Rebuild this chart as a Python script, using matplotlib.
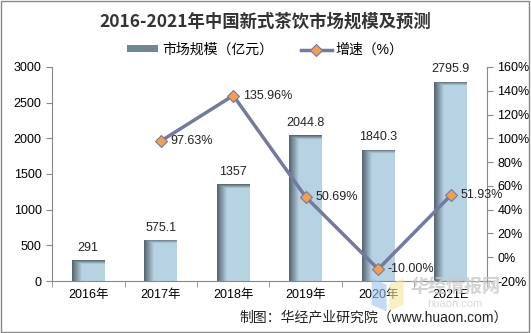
import numpy as np
import matplotlib.pyplot as plt
from matplotlib.patches import Rectangle, Patch, Polygon
from matplotlib.lines import Line2D
from matplotlib.colors import LinearSegmentedColormap

plt.rcParams['font.family'] = ['Liberation Sans', 'Noto Sans CJK SC']

years = ['2016年', '2017年', '2018年', '2019年', '2020年', '2021E']
scale = [291, 575.1, 1357, 2044.8, 1840.3, 2795.9]
growth_years = [1, 2, 3, 4, 5]
growth = [97.63, 135.96, 50.69, -10.00, 51.93]
growth_labels = ['97.63%', '135.96%', '50.69%', '-10.00%', '51.93%']

fig = plt.figure(figsize=(5.31, 3.33), dpi=100)
ax = fig.add_axes([0.098, 0.156, 0.819, 0.643])
x = np.arange(len(years))

bars = ax.bar(x, scale, width=0.45, color='#B7D3E3', zorder=2)

# gradient shading on each bar (dark left edge and top edge)
cmap = LinearSegmentedColormap.from_list('shade', ['#55646e', '#B7D3E3'])
gx = np.linspace(0, 1, 60)
hgrad = np.clip(gx / 0.3, 0, 1)
for b, v in zip(bars, scale):
    x0, w, h = b.get_x(), b.get_width(), b.get_height()
    gy = np.linspace(0, 1, 200)
    top_px = 4.0 / (h / 3000 * 214)
    vgrad = np.clip((1 - gy) / top_px, 0, 1)
    img = np.minimum(hgrad[None, :], vgrad[:, None])
    im = ax.imshow(img, cmap=cmap, vmin=0, vmax=1, aspect='auto', origin='lower',
                   extent=[x0, x0 + w, 0, h], zorder=2)
    im.set_clip_path(b)
    ax.text(x0 + w / 2, h + 90, f'{v:g}', ha='center', va='bottom',
            fontsize=9, color='#222222')
ax.set_xlim(-0.5, len(years) - 0.5)
ax.set_ylim(0, 3000)

ax.set_yticks(np.arange(0, 3001, 500))
ax.set_xticks(x)
ax.set_xticklabels(years, fontsize=9)
ax.set_xticks(np.arange(-0.5, len(years), 1), minor=True)
ax.tick_params(axis='x', which='major', length=0, pad=6)
ax.tick_params(axis='x', which='minor', length=4, color='#888888')
ax.tick_params(axis='y', labelsize=9, length=4, color='#888888')
for s in ['top', 'right']:
    ax.spines[s].set_visible(False)
for s in ['left', 'bottom']:
    ax.spines[s].set_color('#888888')

ax2 = ax.twinx()
ax2.plot(growth_years, growth, color='#7479A0', lw=2.5, marker='D', ms=6,
         mfc='#F0A050', mec='#7479A0', mew=0.8, zorder=5)
for xi, yi, lab in zip(growth_years, growth, growth_labels):
    ax2.annotate(lab, (xi, yi), xytext=(7, 0), textcoords='offset points',
                 ha='left', va='center', fontsize=9, color='#222222')
ax2.set_ylim(-20, 160)
ax2.set_yticks(np.arange(-20, 161, 20))
ax2.set_yticklabels([f'{v}%' for v in range(-20, 161, 20)])
ax2.tick_params(axis='y', labelsize=9, length=4, color='#888888')
for s in ['top', 'left', 'bottom']:
    ax2.spines[s].set_visible(False)
ax2.spines['right'].set_color('#888888')

fig.text(0.5, 0.935, '2016-2021年中国新式茶饮市场规模及预测', ha='center', va='center',
         fontsize=12.5, fontweight='bold', color='#333333', family=['Noto Sans CJK SC'])

# legend
handles = [Patch(facecolor='#6f8791', edgecolor='none'),
           Line2D([], [], color='#7479A0', lw=2.5, marker='D', ms=6,
                  mfc='#F0A050', mec='#7479A0', mew=0.8)]
fig.legend(handles, ['市场规模（亿元）', '增速（%）'], loc='center', ncol=2,
           bbox_to_anchor=(0.5, 0.85), frameon=False, fontsize=10,
           handlelength=2.2, handleheight=0.4, columnspacing=2.0, handletextpad=0.3)

# watermark (logo + text)
fig.patches.append(Polygon([[0.700, 0.165], [0.728, 0.145], [0.728, 0.065], [0.700, 0.085]],
                           closed=True, transform=fig.transFigure,
                           facecolor='#9cc3ec', alpha=0.6, edgecolor='none'))
fig.patches.append(Polygon([[0.733, 0.145], [0.760, 0.165], [0.760, 0.085], [0.733, 0.065]],
                           closed=True, transform=fig.transFigure,
                           facecolor='#f7e59a', alpha=0.6, edgecolor='none'))
fig.text(0.857, 0.135, '华经情报网', ha='center', va='center', fontsize=13,
         color='#c8c8c8', alpha=0.8, fontweight='bold')
fig.text(0.857, 0.088, 'huaon.com', ha='center', va='center', fontsize=8,
         color='#d0d0d0', alpha=0.8)

fig.text(0.957, 0.048, '制图：华经产业研究院（www.huaon.com）', ha='right', va='center',
         fontsize=10, color='#222222')

fig.patches.append(Rectangle((0.002, 0.003), 0.995, 0.994, transform=fig.transFigure,
                             fill=False, edgecolor='#888888', lw=1))

fig.savefig('out.png', dpi=100)
